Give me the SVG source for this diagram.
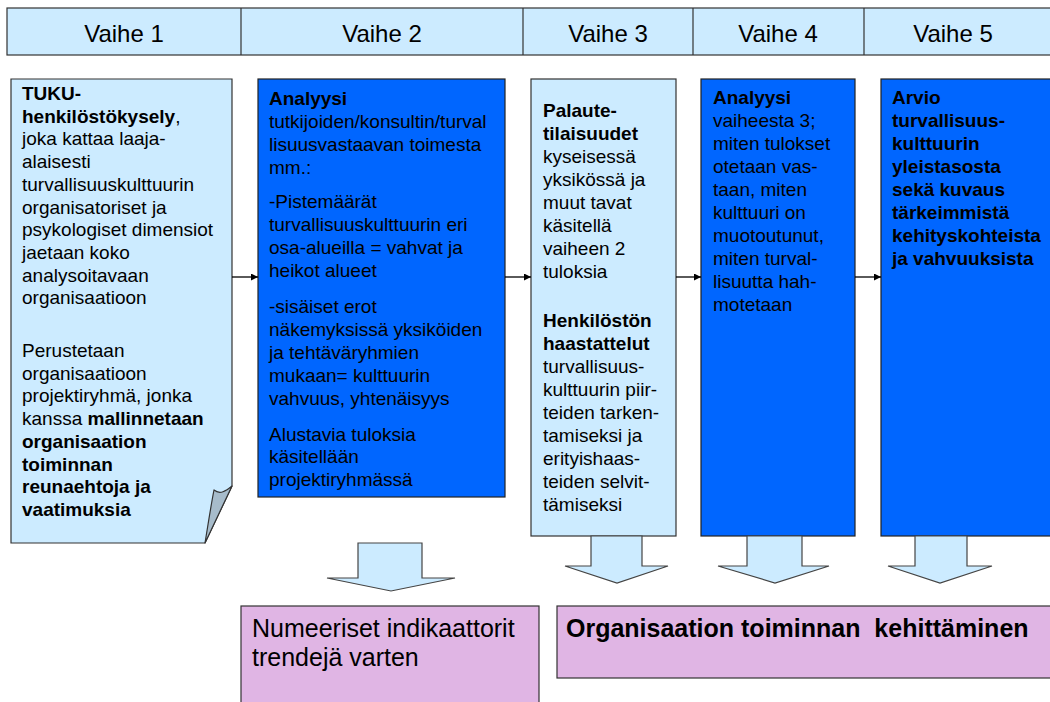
<svg xmlns="http://www.w3.org/2000/svg" width="1050" height="702" viewBox="0 0 1050 702">
  <style>
    text { font-family: "Liberation Sans", Arial, sans-serif; fill: #000; }
    .hdr { font-size: 24px; text-anchor: middle; }
    .body { font-size: 19px; }
    .b { font-weight: bold; }
    .big { font-size: 25px; }
    .light { fill: #CCEBFF; stroke: #333; stroke-width: 1.2; }
    .dark { fill: #0066FF; stroke: #222; stroke-width: 1.2; }
    .result { fill: #E0B5E4; stroke: #333; stroke-width: 1.2; }
    .block { fill: #CCEBFF; stroke: #444; stroke-width: 1.2; }
    .flow { stroke: #000; stroke-width: 1.3; fill: none; marker-end: url(#head); }
  </style>
  <defs>
    <marker id="head" viewBox="0 0 10 10" refX="10" refY="5" markerWidth="8" markerHeight="7" markerUnits="userSpaceOnUse" orient="auto">
      <path d="M0,0 L10,5 L0,10 Z" fill="#000"/>
    </marker>
  </defs>

  <rect width="1050" height="702" fill="#fff"/>

  <!-- phase header band -->
  <g id="phases">
    <rect class="light" x="7" y="8" width="1050" height="47"/>
    <line x1="241" y1="8" x2="241" y2="55" stroke="#333" stroke-width="1.2"/>
    <line x1="523" y1="8" x2="523" y2="55" stroke="#333" stroke-width="1.2"/>
    <line x1="693" y1="8" x2="693" y2="55" stroke="#333" stroke-width="1.2"/>
    <line x1="864" y1="8" x2="864" y2="55" stroke="#333" stroke-width="1.2"/>
    <text class="hdr" x="124" y="42">Vaihe 1</text>
    <text class="hdr" x="382" y="42">Vaihe 2</text>
    <text class="hdr" x="608" y="42">Vaihe 3</text>
    <text class="hdr" x="778" y="42">Vaihe 4</text>
    <text class="hdr" x="953" y="42">Vaihe 5</text>
  </g>

  <!-- step 1: survey, page with a folded corner -->
  <g id="step1">
    <path class="light" d="M11,79 H232 V486 L205,543 H11 Z"/>
    <path d="M232,486 C226,491 220,495 214,490 C211,505 208,525 205,543 Z" fill="#A7BCCB" stroke="#333" stroke-width="1.2" stroke-linejoin="round"/>
    <text class="body">
      <tspan x="22" y="100" class="b">TUKU-</tspan>
      <tspan x="22" y="122.7"><tspan class="b">henkilöstökysely</tspan>,</tspan>
      <tspan x="22" y="145.4">joka kattaa laaja-</tspan>
      <tspan x="22" y="168.1">alaisesti</tspan>
      <tspan x="22" y="190.8">turvallisuuskulttuurin</tspan>
      <tspan x="22" y="213.5">organisatoriset ja</tspan>
      <tspan x="22" y="236.2">psykologiset dimensiot</tspan>
      <tspan x="22" y="258.9">jaetaan koko</tspan>
      <tspan x="22" y="281.6">analysoitavaan</tspan>
      <tspan x="22" y="304.3">organisaatioon</tspan>
      <tspan x="22" y="357">Perustetaan</tspan>
      <tspan x="22" y="379.7">organisaatioon</tspan>
      <tspan x="22" y="402.4">projektiryhmä, jonka</tspan>
      <tspan x="22" y="425.1">kanssa <tspan class="b">mallinnetaan</tspan></tspan>
      <tspan x="22" y="447.8" class="b">organisaation</tspan>
      <tspan x="22" y="470.5" class="b">toiminnan</tspan>
      <tspan x="22" y="493.2" class="b">reunaehtoja ja</tspan>
      <tspan x="22" y="515.9" class="b">vaatimuksia</tspan>
    </text>
  </g>

  <!-- step 2: analysis -->
  <g id="step2">
    <rect class="dark" x="258" y="79" width="247" height="418"/>
    <text class="body">
      <tspan x="269" y="105" class="b">Analyysi</tspan>
      <tspan x="269" y="128">tutkijoiden/konsultin/turval</tspan>
      <tspan x="269" y="151">lisuusvastaavan toimesta</tspan>
      <tspan x="269" y="174">mm.:</tspan>
      <tspan x="269" y="208">-Pistemäärät</tspan>
      <tspan x="269" y="231">turvallisuuskulttuurin eri</tspan>
      <tspan x="269" y="254">osa-alueilla = vahvat ja</tspan>
      <tspan x="269" y="277">heikot alueet</tspan>
      <tspan x="269" y="313">-sisäiset erot</tspan>
      <tspan x="269" y="336">näkemyksissä yksiköiden</tspan>
      <tspan x="269" y="359">ja tehtäväryhmien</tspan>
      <tspan x="269" y="382">mukaan= kulttuurin</tspan>
      <tspan x="269" y="405">vahvuus, yhtenäisyys</tspan>
      <tspan x="269" y="441">Alustavia tuloksia</tspan>
      <tspan x="269" y="463">käsitellään</tspan>
      <tspan x="269" y="486">projektiryhmässä</tspan>
    </text>
  </g>

  <!-- step 3: feedback and interviews -->
  <g id="step3">
    <rect class="light" x="531" y="79" width="145" height="457"/>
    <text class="body">
      <tspan x="543" y="117" class="b">Palaute-</tspan>
      <tspan x="543" y="140" class="b">tilaisuudet</tspan>
      <tspan x="543" y="163">kyseisessä</tspan>
      <tspan x="543" y="186">yksikössä ja</tspan>
      <tspan x="543" y="209">muut tavat</tspan>
      <tspan x="543" y="232">käsitellä</tspan>
      <tspan x="543" y="255">vaiheen 2</tspan>
      <tspan x="543" y="278">tuloksia</tspan>
      <tspan x="543" y="327" class="b">Henkilöstön</tspan>
      <tspan x="543" y="350" class="b">haastattelut</tspan>
      <tspan x="543" y="373">turvallisuus-</tspan>
      <tspan x="543" y="396">kulttuurin piir-</tspan>
      <tspan x="543" y="419">teiden tarken-</tspan>
      <tspan x="543" y="442">tamiseksi ja</tspan>
      <tspan x="543" y="465">erityishaas-</tspan>
      <tspan x="543" y="488">teiden selvit-</tspan>
      <tspan x="543" y="511">tämiseksi</tspan>
    </text>
  </g>

  <!-- step 4: analysis of step 3 -->
  <g id="step4">
    <rect class="dark" x="701" y="79" width="154" height="457"/>
    <text class="body">
      <tspan x="713" y="104" class="b">Analyysi</tspan>
      <tspan x="713" y="127">vaiheesta 3;</tspan>
      <tspan x="713" y="150">miten tulokset</tspan>
      <tspan x="713" y="173">otetaan vas-</tspan>
      <tspan x="713" y="196">taan, miten</tspan>
      <tspan x="713" y="219">kulttuuri on</tspan>
      <tspan x="713" y="242">muotoutunut,</tspan>
      <tspan x="713" y="265">miten turval-</tspan>
      <tspan x="713" y="288">lisuutta hah-</tspan>
      <tspan x="713" y="311">motetaan</tspan>
    </text>
  </g>

  <!-- step 5: assessment -->
  <g id="step5">
    <rect class="dark" x="881" y="79" width="180" height="457"/>
    <text class="body b">
      <tspan x="892" y="104">Arvio</tspan>
      <tspan x="892" y="127">turvallisuus-</tspan>
      <tspan x="892" y="150">kulttuurin</tspan>
      <tspan x="892" y="173">yleistasosta</tspan>
      <tspan x="892" y="196">sekä kuvaus</tspan>
      <tspan x="892" y="219">tärkeimmistä</tspan>
      <tspan x="892" y="242">kehityskohteista</tspan>
      <tspan x="892" y="265">ja vahvuuksista</tspan>
    </text>
  </g>

  <!-- outcome: numeric indicators -->
  <g id="indicators">
    <rect class="result" x="241" y="606" width="298" height="100"/>
    <text class="big">
      <tspan x="252" y="637">Numeeriset indikaattorit</tspan>
      <tspan x="252" y="666">trendejä varten</tspan>
    </text>
  </g>

  <!-- outcome: organisational development -->
  <g id="development">
    <rect class="result" x="557" y="606" width="500" height="72"/>
    <text class="big b" x="566" y="637" xml:space="preserve">Organisaation toiminnan  kehittäminen</text>
  </g>

  <!-- connectors -->
  <g id="connectors">
    <line class="flow" x1="232" y1="277" x2="258" y2="277"/>
    <line class="flow" x1="505" y1="277" x2="531" y2="277"/>
    <line class="flow" x1="676" y1="277" x2="701" y2="277"/>
    <line class="flow" x1="855" y1="277" x2="881" y2="277"/>
    <polygon class="block" points="358,543 358,578 327,578 391,591 455,578 422,578 422,543"/>
    <polygon class="block" points="591,536 591,566 565,566 617,583 668,566 642,566 642,536"/>
    <polygon class="block" points="747,536 747,566 718,566 775,583 829,566 802,566 802,536"/>
    <polygon class="block" points="915,536 915,566 888,566 940,583 992,566 967,566 967,536"/>
  </g>
</svg>
